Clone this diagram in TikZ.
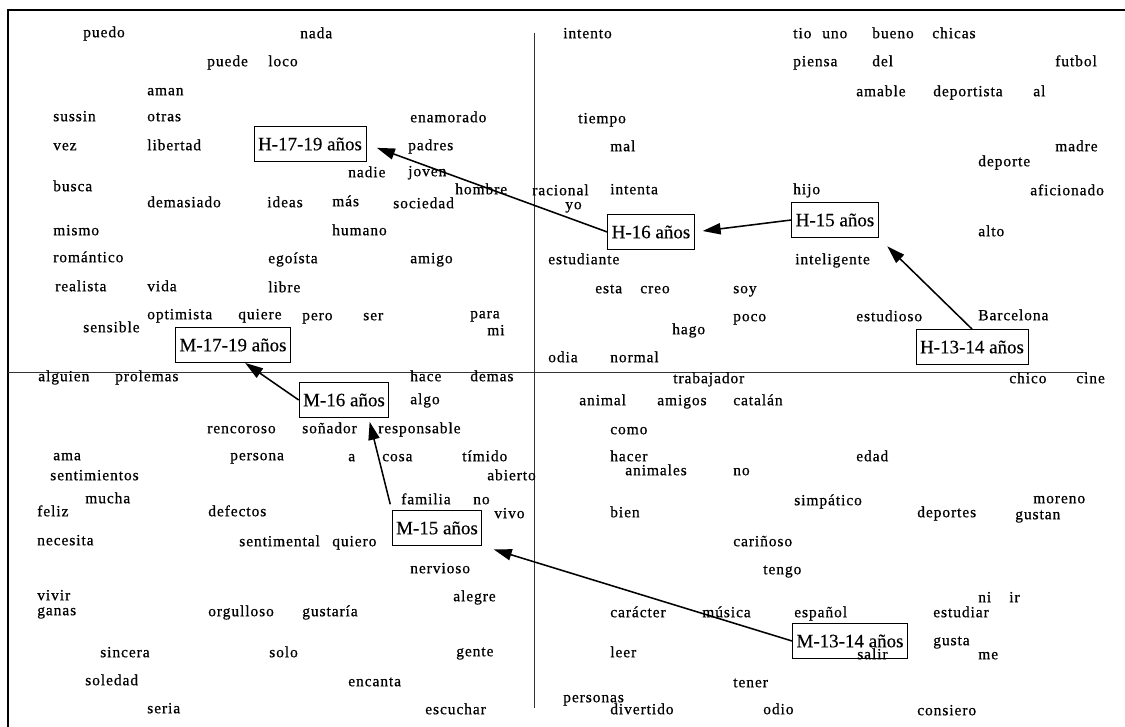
\documentclass[tikz,border=0pt]{standalone}
\usepackage{fontspec}
\setmainfont{Liberation Serif}
\newfontfamily\wordfont[LetterSpace=6,FakeBold=0.6]{Liberation Serif}
\newfontfamily\boxfont[FakeBold=0.3]{Liberation Serif}
\usetikzlibrary{arrows.meta}
\tikzset{>={Triangle[length=4.5mm,width=2.8mm]}}
\tikzstyle{word}=[anchor=mid west,inner sep=0pt,font=\wordfont\fontsize{11}{13}\selectfont]
\tikzstyle{agebox}=[rectangle,draw,line width=0.6pt,minimum height=0.875cm,inner xsep=1mm,font=\boxfont\fontsize{13.5}{16}\selectfont]
\tikzstyle{agearrow}=[->,line width=1.1pt]
\tikzstyle{axisline}=[line width=0.6pt,black!80]

\begin{document}
\begin{tikzpicture}[x=0.025cm,y=-0.025cm]
	\useasboundingbox (0,0) rectangle (1125,727);
	\draw[line width=1.5pt] (8,727) -- (8,10) -- (1125,10);
	\draw[axisline] (534,33) -- (534,708);
	\draw[axisline] (8,372) -- (1087,372);

	% upper left
	\node[word] (puedo) at (83,34) {puedo};
	\node[word] (nada) at (300,35) {nada};
	\node[word] (puede) at (207,63) {puede};
	\node[word] (loco) at (268,63) {loco};
	\node[word] (aman) at (147,92) {aman};
	\node[word] (sussin) at (53,118) {sussin};
	\node[word] (otras) at (147,118) {otras};
	\node[word] (enamorado) at (410,119) {enamorado};
	\node[word] (vez) at (53,147) {vez};
	\node[word] (libertad) at (147,147) {libertad};
	\node[word] (padres) at (408,147) {padres};
	\node[word] (nadie) at (348,174) {nadie};
	\node[word] (joven) at (408,173) {joven};
	\node[word] (busca) at (53,188) {busca};
	\node[word] (hombre) at (455,191) {hombre};
	\node[word] (racional) at (532,192) {racional};
	\node[word] (demasiado) at (147,204) {demasiado};
	\node[word] (ideas) at (267,204) {ideas};
	\node[word] (mas) at (332,203) {más};
	\node[word] (sociedad) at (393,205) {sociedad};
	\node[word] (yo) at (565,206) {yo};
	\node[word] (mismo) at (53,232) {mismo};
	\node[word] (humano) at (332,232) {humano};
	\node[word] (romantico) at (53,259) {romántico};
	\node[word] (egoista) at (268,260) {egoísta};
	\node[word] (amigo) at (410,260) {amigo};
	\node[word] (realista) at (55,288) {realista};
	\node[word] (vida) at (147,288) {vida};
	\node[word] (libre) at (268,289) {libre};
	\node[word] (optimista) at (147,316) {optimista};
	\node[word] (quiere) at (238,316) {quiere};
	\node[word] (pero) at (302,317) {pero};
	\node[word] (ser) at (363,317) {ser};
	\node[word] (para) at (470,315) {para};
	\node[word] (mi) at (487,332) {mi};
	\node[word] (sensible) at (83,329) {sensible};

	% upper right
	\node[word] (intento) at (563,35) {intento};
	\node[word] (tio) at (793,35) {tio};
	\node[word] (uno) at (822,35) {uno};
	\node[word] (bueno) at (872,35) {bueno};
	\node[word] (chicas) at (932,35) {chicas};
	\node[word] (piensa) at (793,63) {piensa};
	\node[word] (del) at (872,63) {del};
	\node[word] (futbol) at (1055,63) {futbol};
	\node[word] (amable) at (856,93) {amable};
	\node[word] (deportista) at (933,93) {deportista};
	\node[word] (al) at (1033,93) {al};
	\node[word] (tiempo) at (578,120) {tiempo};
	\node[word] (mal) at (610,148) {mal};
	\node[word] (madre) at (1055,148) {madre};
	\node[word] (deporte) at (978,163) {deporte};
	\node[word] (intenta) at (610,191) {intenta};
	\node[word] (hijo) at (793,191) {hijo};
	\node[word] (aficionado) at (1030,192) {aficionado};
	\node[word] (alto) at (978,233) {alto};
	\node[word] (estudiante) at (548,261) {estudiante};
	\node[word] (inteligente) at (795,261) {inteligente};
	\node[word] (esta) at (595,290) {esta};
	\node[word] (creo) at (640,290) {creo};
	\node[word] (soy) at (733,290) {soy};
	\node[word] (poco) at (733,318) {poco};
	\node[word] (estudioso) at (856,318) {estudioso};
	\node[word] (barcelona) at (978,317) {Barcelona};
	\node[word] (hago) at (672,331) {hago};
	\node[word] (odia) at (548,359) {odia};
	\node[word] (normal) at (610,359) {normal};

	% lower left
	\node[word] (alguien) at (38,378) {alguien};
	\node[word] (prolemas) at (115,378) {prolemas};
	\node[word] (hace) at (410,378) {hace};
	\node[word] (demas) at (470,378) {demas};
	\node[word] (algo) at (410,401) {algo};
	\node[word] (rencoroso) at (207,430) {rencoroso};
	\node[word] (sonador) at (302,430) {soñador};
	\node[word] (responsable) at (378,430) {responsable};
	\node[word] (ama) at (53,457) {ama};
	\node[word] (persona) at (230,457) {persona};
	\node[word] (wa) at (348,458) {a};
	\node[word] (cosa) at (382,458) {cosa};
	\node[word] (timido) at (462,458) {tímido};
	\node[word] (sentimientos) at (50,477) {sentimientos};
	\node[word] (abierto) at (487,477) {abierto};
	\node[word] (mucha) at (85,500) {mucha};
	\node[word] (familia) at (401,501) {familia};
	\node[word] (no1) at (473,501) {no};
	\node[word] (feliz) at (37,513) {feliz};
	\node[word] (defectos) at (208,513) {defectos};
	\node[word] (vivo) at (494,515) {vivo};
	\node[word] (necesita) at (37,542) {necesita};
	\node[word] (sentimental) at (239,543) {sentimental};
	\node[word] (quiero) at (332,543) {quiero};
	\node[word] (nervioso) at (410,570) {nervioso};
	\node[word] (vivir) at (37,597) {vivir};
	\node[word] (alegre) at (453,598) {alegre};
	\node[word] (ganas) at (37,612) {ganas};
	\node[word] (orgulloso) at (208,613) {orgulloso};
	\node[word] (gustaria) at (302,613) {gustaría};
	\node[word] (sincera) at (100,654) {sincera};
	\node[word] (solo) at (269,654) {solo};
	\node[word] (gente) at (456,653) {gente};
	\node[word] (soledad) at (85,682) {soledad};
	\node[word] (encanta) at (348,683) {encanta};
	\node[word] (seria) at (147,710) {seria};
	\node[word] (escuchar) at (425,711) {escuchar};

	% lower right
	\node[word] (trabajador) at (673,380) {trabajador};
	\node[word] (chico) at (1009,380) {chico};
	\node[word] (cine) at (1076,380) {cine};
	\node[word] (animal) at (579,402) {animal};
	\node[word] (amigos) at (657,402) {amigos};
	\node[word] (catalan) at (733,402) {catalán};
	\node[word] (como) at (610,431) {como};
	\node[word] (hacer) at (610,458) {hacer};
	\node[word] (edad) at (856,458) {edad};
	\node[word] (animales) at (625,472) {animales};
	\node[word] (no2) at (733,472) {no};
	\node[word] (simpatico) at (794,502) {simpático};
	\node[word] (moreno) at (1033,500) {moreno};
	\node[word] (bien) at (610,514) {bien};
	\node[word] (deportes) at (917,514) {deportes};
	\node[word] (gustan) at (1015,516) {gustan};
	\node[word] (carinoso) at (733,543) {cariñoso};
	\node[word] (tengo) at (763,571) {tengo};
	\node[word] (ni) at (978,599) {ni};
	\node[word] (ir) at (1009,599) {ir};
	\node[word] (caracter) at (610,614) {carácter};
	\node[word] (musica) at (702,614) {música};
	\node[word] (espanol) at (794,614) {español};
	\node[word] (estudiar) at (933,614) {estudiar};
	\node[word] (gusta) at (933,642) {gusta};
	\node[word] (leer) at (610,654) {leer};
	\node[word] (salir) at (857,656) {salir};
	\node[word] (me) at (978,656) {me};
	\node[word] (tener) at (733,684) {tener};
	\node[word] (personas) at (563,699) {personas};
	\node[word] (divertido) at (610,711) {divertido};
	\node[word] (odio) at (763,711) {odio};
	\node[word] (consiero) at (917,712) {consiero};

	% age groups
	\node[agebox] (h1719) at (310,144) {H-17-19 años};
	\node[agebox] (h16) at (651,232) {H-16 años};
	\node[agebox] (h15) at (835,220) {H-15 años};
	\node[agebox] (h1314) at (972,347) {H-13-14 años};
	\node[agebox] (m1719) at (233,345) {M-17-19 años};
	\node[agebox] (m16) at (344,400) {M-16 años};
	\node[agebox] (m15) at (437,528) {M-15 años};
	\node[agebox] (m1314) at (850,641) {M-13-14 años};

	\draw[agearrow, shorten >=3mm] (h1314.north) -- (h15.south east);
	\draw[agearrow, shorten >=2mm] (h15.west) -- (h16.east);
	\draw[agearrow, shorten >=2.8mm] (h16.west) -- (h1719.east);
	\draw[agearrow, shorten >=3mm] (m1314.west) -- (m15.south east);
	\draw[agearrow, shorten <=1.5mm, shorten >=1mm] (m15.north west) -- (m16.-36);
	\draw[agearrow] (m16.west) -- (m1719.-56);
\end{tikzpicture}
\end{document}
